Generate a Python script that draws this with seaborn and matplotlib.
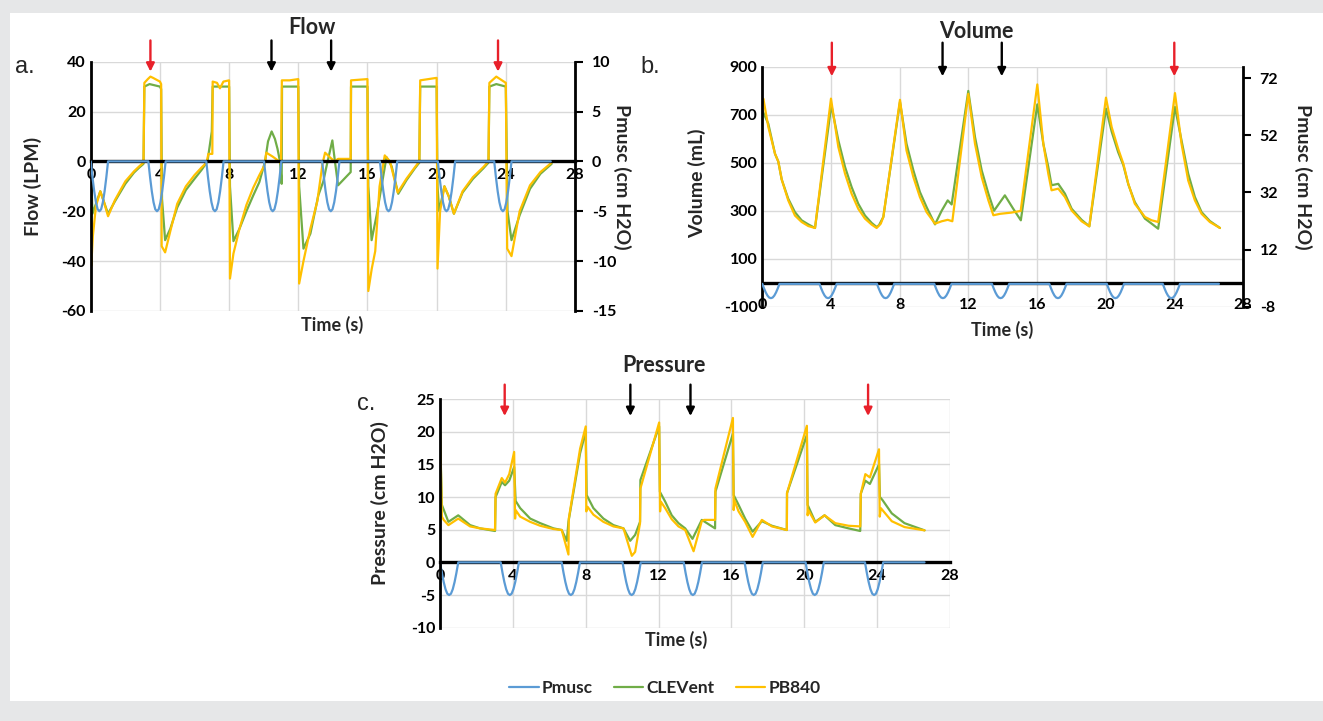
import pandas as pd
import seaborn as sns
import matplotlib.pyplot as plt
from matplotlib.patches import Rectangle
from matplotlib.lines import Line2D

sns.set_style('white')
plt.rcParams['font.family'] = ['Lato', 'DejaVu Sans']
plt.rcParams['font.weight'] = 'bold'
plt.rcParams['axes.unicode_minus'] = False

BLUE = '#5B9BD5'
GREEN = '#70AD47'
GOLD = '#FFC000'
GRID = '#d9d9d9'
RED = '#e8202a'

# ---- Pmusc (cm H2O), same trace in all three panels ----
dip_starts = [0.0, 3.33, 6.68, 10.02, 13.38, 16.72, 20.07, 23.33]
dip_len = 1.0
dip_frac = [0, 0.1, 0.2, 0.3, 0.4, 0.5, 0.6, 0.7, 0.8, 0.9, 1.0]
dip_shape = [0, -1.6, -3.0, -4.1, -4.8, -5.0, -4.8, -4.1, -3.0, -1.6, 0]
pmusc_end = 26.6

# ---- a. Flow (LPM) ----
flow_pb_t = [0.0, 0.03, 0.12, 0.3, 0.55, 0.75, 1.0, 1.4, 2.0, 2.5, 2.8, 3.05,
             3.1, 3.3, 3.45, 3.6, 4.0, 4.07, 4.1, 4.3, 4.6, 5.0, 5.5, 6.0, 6.4, 6.7,
             6.8, 7.03, 7.05, 7.3, 7.47, 7.67, 8.0, 8.05, 8.25, 8.6, 9.0, 9.4, 9.75,
             10.05, 10.15, 10.5, 10.9, 11.0, 11.05, 11.5, 12.0, 12.05, 12.3, 12.7, 13.1,
             13.4, 13.55, 13.85, 14.1, 14.3, 15.03, 15.05, 16.0, 16.05, 16.25, 16.45,
             16.7, 17.0, 17.3, 17.75, 18.25, 18.75, 19.0, 19.05, 20.0, 20.05, 20.2,
             20.45, 20.7, 21.0, 21.5, 22.1, 22.7, 23.0, 23.05, 23.45, 24.0, 24.08,
             24.33, 24.8, 25.4, 26.0, 26.65]
flow_pb_v = [33, -42, -30, -18, -12, -16, -22, -15.5, -8, -4, -2, -0.5,
             31.5, 33, 34, 33.5, 32, 31, -34, -36.5, -28, -17, -10, -5.5, -2.5, -0.5,
             3, 3, 32, 31.5, 29.3, 32, 32.5, -47, -37, -27, -17.5, -10.5, -5.5,
             -1.5, 3.5, 2, 0, -1, 32.5, 32.5, 33, -49, -40, -27, -16,
             -1, 3.5, 1.5, 0, 1, 1, 32.5, 33, -52, -43, -36,
             -10, 2.4, 0, -12.5, -7, -2.3, 0, 32.5, 33.5, -43, -20,
             -10, -14, -21, -12, -6.3, -2.3, 0, 31.5, 34, 31.5, -35,
             -38, -20, -9.6, -4.3, -0.5]
flow_cl_t = [0.0, 0.1, 0.3, 0.55, 0.75, 1.0, 1.4, 2.0, 2.5, 2.8, 3.05,
             3.1, 3.4, 4.0, 4.07, 4.12, 4.3, 4.6, 5.0, 5.5, 6.0, 6.4, 6.75,
             7.0, 7.05, 7.6, 8.0, 8.05, 8.25, 8.6, 9.0, 9.4, 9.75, 10.08,
             10.25, 10.46, 10.65, 10.8, 10.94, 11.04, 11.06, 12.0, 12.05, 12.3, 12.7,
             13.16, 13.45, 13.6, 13.97, 14.12, 14.3, 15.03, 15.05, 16.0, 16.05, 16.24,
             16.53, 17.1, 17.4, 17.78, 18.26, 18.74, 19.0, 19.05, 20.0, 20.05, 20.15,
             20.45, 20.7, 21.0, 21.5, 22.1, 22.7, 23.0, 23.05, 23.45, 24.0, 24.1,
             24.33, 24.8, 25.4, 26.0, 26.65]
flow_cl_v = [0, -21, -17, -12, -16, -21, -16, -9, -4.5, -2.5, -1,
             30, 31, 30, 29, -15, -31.6, -27, -18.5, -11.5, -7, -3.5, 0,
             12, 30, 30, 30, -10, -32, -27, -20, -13.6, -8.3, 0,
             8, 12, 9, 5, 0, -9, 30, 30, -10, -35, -29,
             -13.6, -8, -3, 8.4, 0, -9.6, -4.3, 30, 30, -10, -31.6,
             -21.6, 1.7, -2, -13, -7.5, -2.8, -0.5, 30, 30, -10, -20,
             -10, -14, -21, -12.5, -7, -2.8, -0.5, 30, 31, 30, -20,
             -31.6, -21.6, -11, -5, -1]

# ---- b. Volume (mL) ----
vol_pb_t = [0.0, 0.06, 0.35, 0.74, 0.93, 1.13, 1.51, 1.9, 2.29, 2.68, 3.07,
            4.0, 4.43, 4.82, 5.2, 5.59, 5.98, 6.37, 6.66, 6.9, 7.05,
            8.02, 8.4, 8.8, 9.18, 9.57, 10.06, 10.45, 10.8, 11.07,
            12.0, 12.39, 12.78, 13.17, 13.46, 13.85, 14.5, 15.05,
            16.02, 16.37, 16.66, 16.85, 17.24, 17.63, 18.02, 18.6, 19.05,
            20.02, 20.35, 20.73, 21.03, 21.32, 21.7, 22.29, 22.68, 23.06,
            24.04, 24.42, 24.81, 25.2, 25.59, 26.07, 26.66]
vol_pb_v = [760, 767, 649, 537, 505, 430, 343, 280, 253, 236, 228,
            767, 565, 454, 371, 308, 267, 242, 228, 246, 274,
            762, 551, 440, 357, 294, 246, 256, 262, 256,
            787, 579, 440, 343, 281, 287, 292, 299,
            826, 579, 454, 385, 392, 357, 301, 256, 235,
            771, 649, 558, 496, 412, 329, 274, 260, 253,
            790, 579, 426, 343, 287, 253, 228]
vol_cl_t = [0.0, 0.35, 0.74, 0.93, 1.13, 1.51, 1.9, 2.29, 2.68, 3.07,
            4.02, 4.43, 4.82, 5.2, 5.59, 5.98, 6.37, 6.66, 6.8, 7.05,
            8.02, 8.4, 8.8, 9.18, 9.57, 10.06, 10.45, 10.8, 11.03,
            12.0, 12.39, 12.78, 13.17, 13.5, 14.13, 14.6, 15.06,
            16.02, 16.37, 16.66, 16.85, 17.24, 17.63, 18.02, 18.6, 19.05,
            20.02, 20.35, 20.73, 21.03, 21.32, 21.7, 22.29, 22.68, 23.06,
            24.04, 24.42, 24.81, 25.2, 25.59, 26.07, 26.66]
vol_cl_v = [718, 662, 537, 505, 430, 350, 294, 260, 243, 228,
            740, 593, 482, 399, 329, 280, 249, 232, 240, 274,
            753, 579, 468, 378, 315, 243, 300, 343, 326,
            799, 607, 468, 371, 300, 364, 310, 260,
            743, 579, 482, 406, 412, 371, 308, 262, 235,
            725, 630, 544, 490, 410, 336, 267, 246, 225,
            732, 593, 454, 357, 294, 257, 228]

# ---- c. Pressure (cm H2O) ----
pr_pb_t = [0.0, 0.1, 0.2, 0.46, 1.0, 1.65, 2.2, 3.02, 3.05, 3.39, 3.57, 3.8,
           4.07, 4.12, 4.15, 4.4, 4.95, 5.5, 6.23, 6.68, 7.05, 7.07, 7.69, 8.0,
           8.03, 8.1, 8.42, 8.97, 9.52, 10.07, 10.53, 10.71, 10.98, 11.0, 12.03,
           12.08, 12.12, 12.36, 12.72, 13.09, 13.46, 13.92, 14.37, 14.5, 15.1,
           15.12, 16.08, 16.12, 16.16, 16.39, 16.75, 17.16, 17.67, 18.22, 19.04,
           19.05, 20.14, 20.18, 20.22, 20.6, 21.11, 21.7, 22.43, 23.07, 23.1,
           23.35, 23.6, 24.1, 24.14, 24.2, 24.8, 25.5, 26.6]
pr_pb_v = [20.8, 7, 6.5, 5.7, 6.7, 5.5, 5.2, 4.95, 10.5, 12.9, 12.2, 13.5,
           16.9, 6.7, 8.0, 7.0, 6.2, 5.6, 5.1, 4.95, 1.2, 6.7, 17.4, 20.8,
           7.8, 8.5, 7.3, 6.2, 5.5, 5.2, 1.0, 1.6, 6.0, 11.3, 21.4,
           7.8, 9.3, 8.3, 6.6, 5.5, 4.95, 1.7, 6.3, 6.5, 6.5,
           11.3, 22.1, 8.0, 9.5, 7.8, 6.2, 3.9, 6.5, 5.5, 4.95,
           10.6, 20.9, 7.2, 8.0, 6.1, 7.2, 6.0, 5.6, 5.5, 10.5,
           13.5, 13.0, 17.3, 7.0, 8.3, 6.3, 5.4, 4.9]
pr_cl_t = [0.0, 0.1, 0.46, 1.0, 1.65, 2.2, 3.02, 3.05, 3.2, 3.39, 3.57, 3.8,
           4.07, 4.15, 4.4, 4.95, 5.5, 6.23, 6.68, 6.96, 7.05, 7.69, 8.0,
           8.05, 8.42, 8.97, 9.52, 10.07, 10.44, 10.71, 10.98, 11.0, 12.03,
           12.07, 12.36, 12.72, 13.09, 13.46, 13.86, 14.37, 15.1,
           15.12, 16.08, 16.12, 16.39, 16.75, 17.16, 17.67, 18.22, 19.04,
           19.05, 20.14, 20.18, 20.6, 21.11, 21.7, 22.43, 23.07, 23.1,
           23.35, 23.6, 24.1, 24.15, 24.3, 24.8, 25.5, 26.6]
pr_cl_v = [20, 8.8, 6.2, 7.2, 5.7, 5.2, 4.8, 10.0, 11.0, 12.3, 11.8, 12.5,
           14.6, 9.4, 8.3, 6.7, 6.0, 5.2, 4.95, 3.3, 6.2, 16.7, 20,
           10.3, 8.3, 6.7, 5.7, 5.2, 3.3, 4.2, 6.2, 12.6, 20.8,
           10.8, 9.3, 7.2, 6.0, 5.2, 3.6, 6.5, 5.2,
           10.8, 19.7, 10.3, 8.8, 6.7, 4.7, 6.3, 5.6, 4.95,
           10.6, 19.5, 8.8, 6.2, 7.2, 5.7, 5.2, 4.8, 10.5,
           12.5, 12.0, 15.0, 10.0, 9.5, 7.5, 6.0, 4.9]

# arrow times
arrows_a = {'red': [3.45, 23.55], 'black': [10.45, 13.9]}
arrows_b = {'red': [4.05, 24.0], 'black': [10.5, 13.95]}
arrows_c = {'red': [3.55, 23.5], 'black': [10.45, 13.75]}

# build pmusc series from the read dip shape
pm_t, pm_v = [], []
for s in dip_starts:
    pm_t += [s + f * dip_len for f in dip_frac]
    pm_v += dip_shape
pm_t.append(pmusc_end)
pm_v.append(0)
pmusc = pd.DataFrame({'t': pm_t, 'v': pm_v})


def two_series(cl_t, cl_v, pb_t, pb_v):
    d1 = pd.DataFrame({'t': cl_t, 'v': cl_v, 'series': 'CLEVent'})
    d2 = pd.DataFrame({'t': pb_t, 'v': pb_v, 'series': 'PB840'})
    return pd.concat([d1, d2], ignore_index=True)


pal = {'CLEVent': GREEN, 'PB840': GOLD}
LW = 1.6
TICK = 11.5
YLAB = 14
XLAB = 13

fig = plt.figure(figsize=(13.23, 7.21), dpi=100)
fig.patch.set_facecolor('#e6e7e8')
fig.add_artist(Rectangle((10 / 1323, 1 - 701 / 721), 1, (701 - 13) / 721,
                         transform=fig.transFigure, facecolor='white',
                         edgecolor='none', zorder=-5))


def base_axes(ax, ylim, yticks):
    ax.set_xlim(0, 28)
    ax.set_ylim(*ylim)
    ax.set_xticks(range(0, 29, 4))
    ax.set_yticks(yticks)
    ax.grid(True, color=GRID, lw=1)
    ax.set_axisbelow(True)
    ax.set_xlabel('')
    ax.set_ylabel('')
    for sp in ['top', 'right']:
        ax.spines[sp].set_visible(False)
    ax.spines['left'].set_color('black')
    ax.spines['left'].set_linewidth(2)
    ax.tick_params(length=0, labelsize=TICK, colors='black')


def right_axis(ax2, ylim, yticks):
    ax2.set_ylim(*ylim)
    ax2.set_yticks(yticks)
    ax2.set_ylabel('')
    for sp in ['top', 'bottom', 'left']:
        ax2.spines[sp].set_visible(False)
    ax2.spines['right'].set_color('black')
    ax2.spines['right'].set_linewidth(2)
    ax2.tick_params(axis='y', length=6, width=1.5, direction='out',
                    labelsize=TICK, colors='black', pad=6)


def add_arrows(ax, arrows, y0, y1):
    for col, times in arrows.items():
        for t in times:
            ax.annotate('', xy=(t, y1), xytext=(t, y0), annotation_clip=False,
                        arrowprops=dict(arrowstyle='-|>', color=RED if col == 'red' else 'black',
                                        lw=1.7, mutation_scale=12, shrinkA=0, shrinkB=0))


# ---- panel a ----
axa = fig.add_axes([0.0686, 0.5687, 0.366, 0.3458])
sns.lineplot(data=two_series(flow_cl_t, flow_cl_v, flow_pb_t, flow_pb_v), x='t', y='v',
             hue='series', palette=pal, estimator=None, sort=False, lw=LW, ax=axa, legend=False)
base_axes(axa, (-60, 40), range(-60, 41, 20))
axa.spines['bottom'].set_position(('data', 0))
axa.spines['bottom'].set_color('black')
axa.spines['bottom'].set_linewidth(2.4)
axa.tick_params(axis='x', pad=5)
axa2 = axa.twinx()
sns.lineplot(data=pmusc, x='t', y='v', color=BLUE, estimator=None, sort=False, lw=LW, ax=axa2)
right_axis(axa2, (-15, 10), range(-15, 11, 5))
add_arrows(axa, arrows_a, 48.5, 36)

# ---- panel b ----
axb = fig.add_axes([0.5762, 0.5746, 0.3633, 0.3329])
sns.lineplot(data=two_series(vol_cl_t, vol_cl_v, vol_pb_t, vol_pb_v), x='t', y='v',
             hue='series', palette=pal, estimator=None, sort=False, lw=LW, ax=axb, legend=False)
base_axes(axb, (-100, 900), range(-100, 901, 200))
axb.spines['bottom'].set_visible(False)
axb.axhline(0, color='black', lw=2.4, zorder=1.5)
axb.tick_params(axis='x', pad=-6)
axb2 = axb.twinx()
sns.lineplot(data=pmusc, x='t', y='v', color=BLUE, estimator=None, sort=False, lw=LW, ax=axb2)
right_axis(axb2, (-8, 76), range(-8, 73, 20))
add_arrows(axb, arrows_b, 1000, 860)

# ---- panel c ----
axc = fig.add_axes([0.3326, 0.1294, 0.3855, 0.3172])
sns.lineplot(data=pmusc, x='t', y='v', color=BLUE, estimator=None, sort=False, lw=LW, ax=axc)
sns.lineplot(data=two_series(pr_cl_t, pr_cl_v, pr_pb_t, pr_pb_v), x='t', y='v',
             hue='series', palette=pal, estimator=None, sort=False, lw=LW, ax=axc, legend=False)
base_axes(axc, (-10, 25), range(-10, 26, 5))
axc.spines['bottom'].set_position(('data', 0))
axc.spines['bottom'].set_color('black')
axc.spines['bottom'].set_linewidth(2.4)
axc.spines['bottom'].set_zorder(1.5)
axc.tick_params(axis='x', pad=5)
add_arrows(axc, arrows_c, 27.2, 22.4)

# ---- text ----
W, H = 1323, 721


def ftxt(x, y, s, **kw):
    fig.text(x / W, 1 - y / H, s, ha='center', va='center', **kw)


ftxt(312, 28, 'Flow', fontsize=15.5)
ftxt(976, 32, 'Volume', fontsize=15.5)
ftxt(664, 366, 'Pressure', fontsize=15.5)
ftxt(25, 67, 'a.', fontsize=17, fontweight='normal', family='Liberation Sans')
ftxt(650, 67, 'b.', fontsize=17, fontweight='normal', family='Liberation Sans')
ftxt(366, 404, 'c.', fontsize=17, fontweight='normal', family='Liberation Sans')
ftxt(33, 186, 'Flow (LPM)', fontsize=YLAB, rotation=90)
ftxt(622, 177, 'Pmusc (cm H2O)', fontsize=YLAB, rotation=270)
ftxt(697, 183, 'Volume (mL)', fontsize=YLAB, rotation=90)
ftxt(1303, 177, 'Pmusc (cm H2O)', fontsize=YLAB, rotation=270)
ftxt(380, 503, 'Pressure (cm H2O)', fontsize=YLAB, rotation=90)
ftxt(332, 325, 'Time (s)', fontsize=XLAB)
ftxt(1002, 330, 'Time (s)', fontsize=XLAB)
ftxt(676, 640, 'Time (s)', fontsize=XLAB)

handles = [Line2D([], [], color=BLUE, lw=LW), Line2D([], [], color=GREEN, lw=LW),
           Line2D([], [], color=GOLD, lw=LW)]
fig.legend(handles, ['Pmusc', 'CLEVent', 'PB840'], loc='center', ncol=3,
           bbox_to_anchor=(665 / W, 1 - 688 / H), frameon=False, fontsize=12.5,
           handlelength=1.7, handletextpad=0.2, columnspacing=1.2)

fig.savefig('out.png', dpi=100)
